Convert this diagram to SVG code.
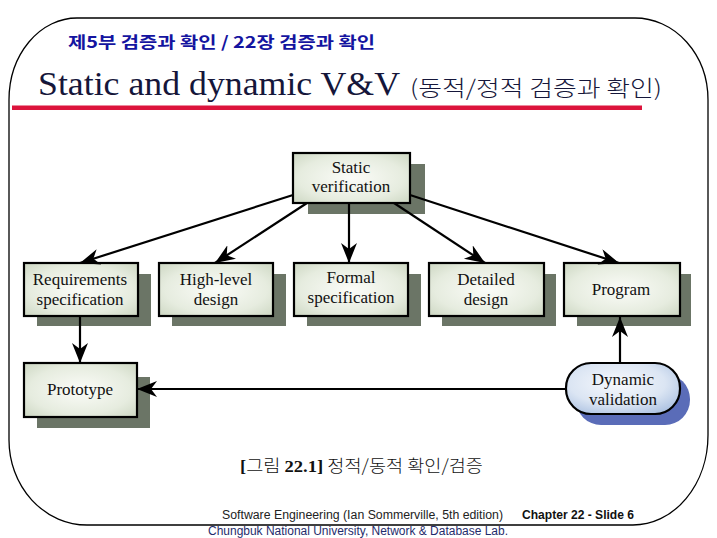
<svg xmlns="http://www.w3.org/2000/svg" width="717" height="538" viewBox="0 0 717 538">
<defs>
<radialGradient id="gBox" cx="50%" cy="50%" r="75%">
<stop offset="0" stop-color="#fbfcf8"/>
<stop offset="0.6" stop-color="#e6ecdf"/>
<stop offset="1" stop-color="#c8d3bd"/>
</radialGradient>
<radialGradient id="gPill" cx="45%" cy="40%" r="70%">
<stop offset="0" stop-color="#f7f9fd"/>
<stop offset="0.6" stop-color="#dbe5f3"/>
<stop offset="1" stop-color="#a9bfe0"/>
</radialGradient>
<marker id="ah" markerUnits="userSpaceOnUse" markerWidth="22" markerHeight="18" refX="20" refY="8" orient="auto">
<path d="M0,0 L20,8 L0,16 L6,8 Z" fill="#000"/>
</marker>
</defs>
<style>
.frame{fill:none;stroke:#000;stroke-width:1.3}
.box{fill:url(#gBox);stroke:#000;stroke-width:2.2}
.sh{fill:#6b7566}
.lbl{font-family:"Liberation Serif","Times New Roman",serif;font-size:17px;fill:#111;text-anchor:middle}
.con{stroke:#000;stroke-width:2.2;fill:none;marker-end:url(#ah)}
</style>
<path class="frame" d="M77,18 H635 A73,82 0 0 1 708,100 V435 A75,90 0 0 1 633,525 H87 A78,85 0 0 1 9,440 V100 A68,82 0 0 1 77,18 Z"/>
<text x="68" y="48" font-family="'Noto Sans CJK KR','Liberation Sans',sans-serif" font-weight="bold" font-size="16" fill="#1414a0" textLength="307" lengthAdjust="spacingAndGlyphs">제5부 검증과 확인 / 22장 검증과 확인</text>
<text x="38" y="95" font-family="'Liberation Serif','Times New Roman',serif" font-size="34" fill="#15163a" textLength="362" lengthAdjust="spacingAndGlyphs">Static and dynamic V&amp;V</text>
<text x="410" y="96" font-family="'Noto Sans CJK KR','Liberation Sans',sans-serif" font-weight="300" font-size="22" fill="#15163a" textLength="252" lengthAdjust="spacingAndGlyphs">(동적/정적 검증과 확인)</text>
<rect x="12" y="105.5" width="630" height="4.5" fill="#dc143c"/>
<g id="static">
<rect class="sh" x="308" y="164" width="117" height="50"/>
<rect class="box" x="293" y="153" width="117" height="50"/>
<text class="lbl" x="351" y="173">Static</text>
<text class="lbl" x="351" y="192">verification</text>
</g>
<g id="requirements">
<rect class="sh" x="37" y="274" width="114" height="52"/>
<rect class="box" x="24" y="263" width="114" height="53"/>
<text class="lbl" x="80" y="285">Requirements</text>
<text class="lbl" x="80" y="305">specification</text>
</g>
<g id="highlevel">
<rect class="sh" x="172" y="274" width="114" height="52"/>
<rect class="box" x="159" y="263" width="114" height="53"/>
<text class="lbl" x="216" y="285">High-level</text>
<text class="lbl" x="216" y="305">design</text>
</g>
<g id="formal">
<rect class="sh" x="307" y="274" width="114" height="52"/>
<rect class="box" x="294" y="263" width="114" height="53"/>
<text class="lbl" x="351" y="283">Formal</text>
<text class="lbl" x="351" y="303">specification</text>
</g>
<g id="detailed">
<rect class="sh" x="442" y="274" width="114" height="52"/>
<rect class="box" x="429" y="263" width="115" height="53"/>
<text class="lbl" x="486" y="285">Detailed</text>
<text class="lbl" x="486" y="305">design</text>
</g>
<g id="program">
<rect class="sh" x="577" y="274" width="114" height="52"/>
<rect class="box" x="564" y="263" width="116" height="53"/>
<text class="lbl" x="621" y="295">Program</text>
</g>
<g id="prototype">
<rect class="sh" x="37" y="377" width="113" height="51"/>
<rect class="box" x="24" y="363" width="113" height="54"/>
<text class="lbl" x="80" y="395">Prototype</text>
</g>
<g id="dynamic">
<rect x="576" y="374" width="114" height="51" rx="25" ry="25" fill="#5a6cb8"/>
<rect x="566" y="363" width="114" height="51" rx="25" ry="25" fill="url(#gPill)" stroke="#000" stroke-width="2.2"/>
<text class="lbl" x="623" y="385">Dynamic</text>
<text class="lbl" x="623" y="405">validation</text>
</g>
<g id="connectors">
<line class="con" x1="293" y1="195" x2="80" y2="263"/>
<line class="con" x1="307" y1="203" x2="215" y2="263"/>
<line class="con" x1="349" y1="203" x2="349" y2="263"/>
<line class="con" x1="394" y1="203" x2="485" y2="263"/>
<line class="con" x1="410" y1="195" x2="619" y2="263"/>
<line class="con" x1="80" y1="317" x2="80" y2="363"/>
<line class="con" x1="620" y1="363" x2="620" y2="317"/>
<line class="con" x1="566" y1="389" x2="137" y2="389"/>
</g>
<text x="240" y="472" font-size="17.5" fill="#111" textLength="243" lengthAdjust="spacingAndGlyphs"><tspan font-family="'Liberation Serif',serif" font-weight="bold">[</tspan><tspan font-family="'Noto Sans CJK KR',sans-serif" font-weight="300">그림 </tspan><tspan font-family="'Liberation Serif',serif" font-weight="bold">22.1]</tspan><tspan font-family="'Noto Sans CJK KR',sans-serif" font-weight="300"> 정적/동적 확인/검증</tspan></text>
<text x="222" y="519" font-family="'Liberation Sans',Arial,sans-serif" font-size="12.5" fill="#222" textLength="281" lengthAdjust="spacingAndGlyphs">Software Engineering (Ian Sommerville, 5th edition)</text>
<text x="522" y="519" font-family="'Liberation Sans',Arial,sans-serif" font-size="12.5" font-weight="bold" fill="#111" textLength="112" lengthAdjust="spacingAndGlyphs">Chapter 22 - Slide 6</text>
<text x="208" y="535" font-family="'Liberation Sans',Arial,sans-serif" font-size="12.5" fill="#1f2c6c" textLength="300" lengthAdjust="spacingAndGlyphs">Chungbuk National University, Network &amp; Database Lab.</text>
</svg>
